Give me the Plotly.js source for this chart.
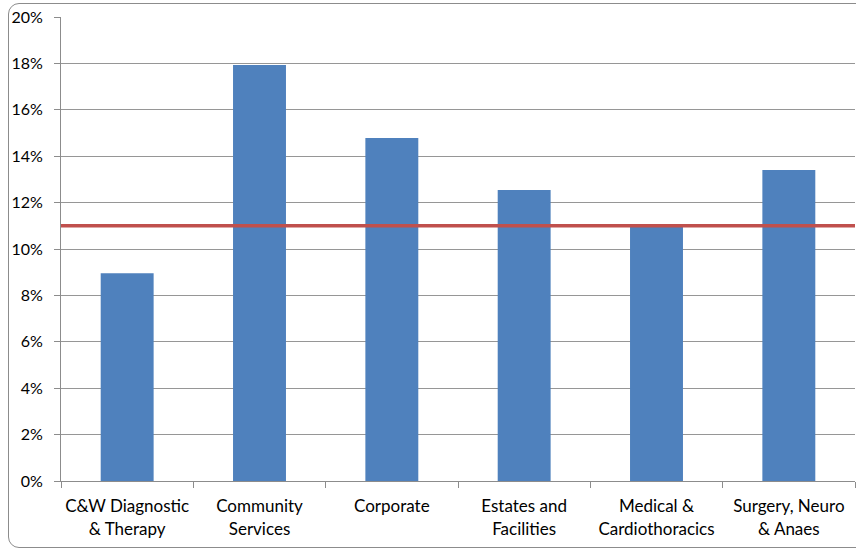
<!DOCTYPE html>
<html>
<head>
<meta charset="utf-8">
<script src="https://cdn.plot.ly/plotly-3.0.1.min.js"></script>
<style>
  html, body { margin:0; padding:0; background:#fff; overflow:hidden; width:856px; height:551px; }
  #chart { position:absolute; left:0; top:0; width:856px; height:551px; }
  #frame { position:absolute; left:8px; top:3px; width:870px; height:545px; border:1px solid #8c8c8c; border-radius:11px; pointer-events:none; box-sizing:border-box; }
</style>
</head>
<body>
<div id="chart"></div>
<div id="frame"></div>
<script>
const categories = [
  "C&W Diagnostic<br>& Therapy",
  "Community<br>Services",
  "Corporate",
  "Estates and<br>Facilities",
  "Medical &<br>Cardiothoracics",
  "Surgery, Neuro<br>& Anaes"
];
const values = [8.95, 17.93, 14.78, 12.54, 11.08, 13.4];
const target = [11.0];
const yTickVals = [0, 2, 4, 6, 8, 10, 12, 14, 16, 18, 20];
const yTickText = ["0%", "2%", "4%", "6%", "8%", "10%", "12%", "14%", "16%", "18%", "20%"];

const xFont = { family: "Lato, 'Open Sans', sans-serif", size: 17, color: "#000" };
const yFont = { family: "Lato, 'Open Sans', sans-serif", size: 16, color: "#000" };

const data = [{
  type: "bar",
  x: categories,
  y: values,
  marker: { color: "#4F81BD" },
  hoverinfo: "none"
}];

const layout = {
  width: 856, height: 551,
  margin: { l: 61, r: 1, t: 17, b: 70 },
  paper_bgcolor: "rgba(0,0,0,0)",
  plot_bgcolor: "#fff",
  showlegend: false,
  bargap: 0.6,
  font: xFont,
  xaxis: {
    type: "category",
    showline: true, linecolor: "#8c8c8c", linewidth: 1,
    ticks: "outside", tickson: "boundaries", ticklen: 6, tickcolor: "#8c8c8c",
    ticklabelstandoff: 10, tickangle: 0, automargin: false,
    showgrid: false, zeroline: false,
    tickfont: xFont,
    fixedrange: true
  },
  yaxis: {
    range: [0, 20],
    tickvals: yTickVals, ticktext: yTickText,
    showline: true, linecolor: "#8c8c8c", linewidth: 1,
    ticks: "outside", ticklen: 6, tickcolor: "#8c8c8c",
    ticklabelstandoff: 8, automargin: false,
    showgrid: true, gridcolor: "#969696", gridwidth: 1,
    zeroline: false,
    tickfont: yFont,
    fixedrange: true
  },
  shapes: target.map(t => ({
    type: "line", xref: "paper", x0: 0, x1: 1, yref: "y", y0: t, y1: t,
    line: { color: "#C0504D", width: 3.5 }
  }))
};

Plotly.newPlot("chart", data, layout, { displayModeBar: false, staticPlot: true });
</script>
</body>
</html>
